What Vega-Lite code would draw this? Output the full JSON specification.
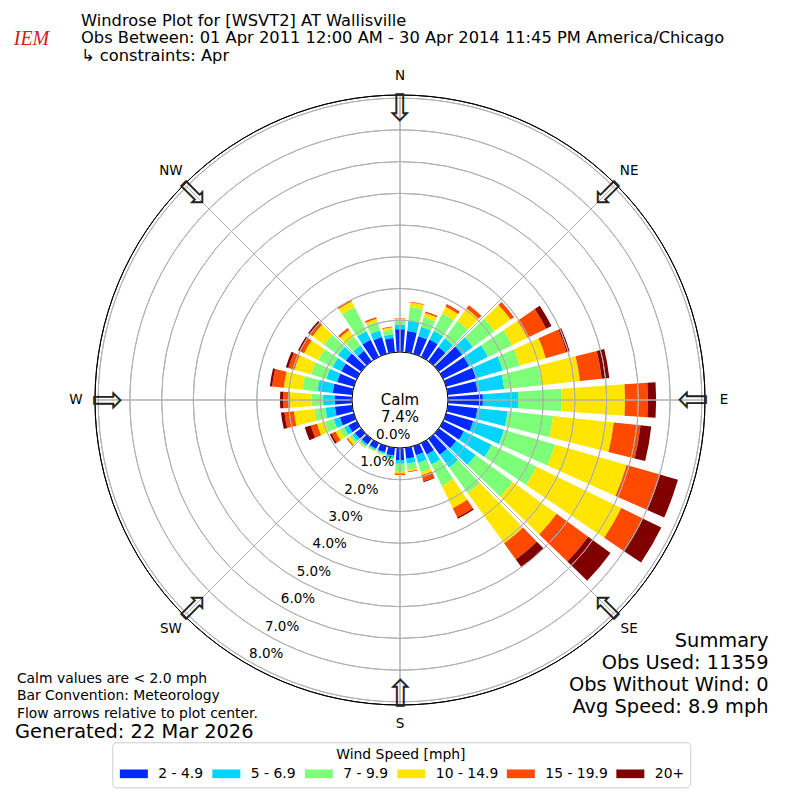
{
  "$schema": "https://vega.github.io/schema/vega-lite/v6.json",
  "width": 800,
  "height": 800,
  "padding": 0,
  "autosize": "none",
  "background": "white",
  "title": {
    "text": "Windrose Plot for [WSVT2] AT Wallisville",
    "subtitle": ["Obs Between: 01 Apr 2011 12:00 AM - 30 Apr 2014 11:45 PM America/Chicago", "  ↳ constraints: Apr"],
    "anchor": "start",
    "frame": "group",
    "dx": 81,
    "offset": -64,
    "fontSize": 16.3,
    "fontWeight": "normal",
    "color": "black",
    "subtitleFontSize": 16.3,
    "subtitleColor": "black",
    "lineHeight": 17.5,
    "subtitleLineHeight": 17.5,
    "subtitlePadding": 1
  },
  "datasets": {
    "rose": [
      {"direction": 0, "b1": 0.72, "b2": 0.15, "b3": 0.13, "b4": 0.05, "b5": 0.01, "b6": 0},
      {"direction": 10, "b1": 0.67, "b2": 0.32, "b3": 0.45, "b4": 0.14, "b5": 0.02, "b6": 0},
      {"direction": 20, "b1": 0.58, "b2": 0.31, "b3": 0.31, "b4": 0.14, "b5": 0.05, "b6": 0},
      {"direction": 30, "b1": 0.61, "b2": 0.30, "b3": 0.61, "b4": 0.24, "b5": 0.09, "b6": 0},
      {"direction": 40, "b1": 0.55, "b2": 0.34, "b3": 0.68, "b4": 0.48, "b5": 0.13, "b6": 0},
      {"direction": 50, "b1": 0.91, "b2": 0.42, "b3": 0.84, "b4": 0.63, "b5": 0.13, "b6": 0},
      {"direction": 60, "b1": 0.91, "b2": 0.66, "b3": 0.85, "b4": 0.54, "b5": 0.65, "b6": 0.19},
      {"direction": 70, "b1": 0.98, "b2": 0.88, "b3": 0.56, "b4": 0.85, "b5": 0.68, "b6": 0.10},
      {"direction": 80, "b1": 0.94, "b2": 0.85, "b3": 1.18, "b4": 1.22, "b5": 0.69, "b6": 0.24},
      {"direction": 90, "b1": 1.10, "b2": 1.11, "b3": 1.38, "b4": 1.99, "b5": 0.72, "b6": 0.26},
      {"direction": 100, "b1": 0.94, "b2": 0.96, "b3": 1.44, "b4": 1.92, "b5": 0.85, "b6": 0.34},
      {"direction": 110, "b1": 0.89, "b2": 1.01, "b3": 1.67, "b4": 2.35, "b5": 1.06, "b6": 0.62},
      {"direction": 120, "b1": 0.73, "b2": 0.97, "b3": 1.58, "b4": 2.97, "b5": 0.73, "b6": 0.67},
      {"direction": 130, "b1": 0.68, "b2": 0.76, "b3": 1.44, "b4": 1.71, "b5": 1.23, "b6": 0.87},
      {"direction": 140, "b1": 0.62, "b2": 0.50, "b3": 1.00, "b4": 1.95, "b5": 0.63, "b6": 0.31},
      {"direction": 150, "b1": 0.40, "b2": 0.35, "b3": 0.74, "b4": 0.79, "b5": 0.32, "b6": 0.05},
      {"direction": 160, "b1": 0.30, "b2": 0.25, "b3": 0.30, "b4": 0.10, "b5": 0.20, "b6": 0.03},
      {"direction": 170, "b1": 0.35, "b2": 0.15, "b3": 0.20, "b4": 0.05, "b5": 0.03, "b6": 0},
      {"direction": 180, "b1": 0.38, "b2": 0.12, "b3": 0.25, "b4": 0.05, "b5": 0.05, "b6": 0},
      {"direction": 190, "b1": 0.25, "b2": 0.08, "b3": 0.05, "b4": 0.02, "b5": 0, "b6": 0},
      {"direction": 200, "b1": 0.20, "b2": 0.05, "b3": 0.04, "b4": 0.02, "b5": 0, "b6": 0},
      {"direction": 210, "b1": 0.20, "b2": 0.05, "b3": 0.03, "b4": 0.02, "b5": 0, "b6": 0},
      {"direction": 220, "b1": 0.22, "b2": 0.06, "b3": 0.04, "b4": 0.02, "b5": 0.01, "b6": 0},
      {"direction": 230, "b1": 0.25, "b2": 0.10, "b3": 0.10, "b4": 0.08, "b5": 0.04, "b6": 0},
      {"direction": 240, "b1": 0.30, "b2": 0.15, "b3": 0.15, "b4": 0.15, "b5": 0.14, "b6": 0.06},
      {"direction": 250, "b1": 0.46, "b2": 0.20, "b3": 0.30, "b4": 0.25, "b5": 0.20, "b6": 0.20},
      {"direction": 260, "b1": 0.55, "b2": 0.30, "b3": 0.35, "b4": 0.65, "b5": 0.30, "b6": 0.11},
      {"direction": 270, "b1": 0.54, "b2": 0.37, "b3": 0.37, "b4": 0.68, "b5": 0.21, "b6": 0.10},
      {"direction": 280, "b1": 0.62, "b2": 0.48, "b3": 0.48, "b4": 0.59, "b5": 0.37, "b6": 0.07},
      {"direction": 290, "b1": 0.55, "b2": 0.35, "b3": 0.50, "b4": 0.55, "b5": 0.20, "b6": 0.08},
      {"direction": 300, "b1": 0.55, "b2": 0.30, "b3": 0.50, "b4": 0.50, "b5": 0.15, "b6": 0.06},
      {"direction": 310, "b1": 0.60, "b2": 0.30, "b3": 0.55, "b4": 0.45, "b5": 0.12, "b6": 0.05},
      {"direction": 320, "b1": 0.41, "b2": 0.20, "b3": 0.35, "b4": 0.25, "b5": 0.08, "b6": 0},
      {"direction": 330, "b1": 0.60, "b2": 0.30, "b3": 0.85, "b4": 0.20, "b5": 0.04, "b6": 0},
      {"direction": 340, "b1": 0.55, "b2": 0.22, "b3": 0.28, "b4": 0.10, "b5": 0.05, "b6": 0},
      {"direction": 350, "b1": 0.45, "b2": 0.12, "b3": 0.15, "b4": 0.07, "b5": 0.03, "b6": 0}
    ],
    "bins": [
      {"key": "b1", "speed": "2 - 4.9"},
      {"key": "b2", "speed": "5 - 6.9"},
      {"key": "b3", "speed": "7 - 9.9"},
      {"key": "b4", "speed": "10 - 14.9"},
      {"key": "b5", "speed": "15 - 19.9"},
      {"key": "b6", "speed": "20+"}
    ],
    "rings": [
      {"pct": 0, "label": "0.0%"}, {"pct": 1, "label": "1.0%"}, {"pct": 2, "label": "2.0%"},
      {"pct": 3, "label": "3.0%"}, {"pct": 4, "label": "4.0%"}, {"pct": 5, "label": "5.0%"},
      {"pct": 6, "label": "6.0%"}, {"pct": 7, "label": "7.0%"}, {"pct": 8, "label": "8.0%"}
    ],
    "compass": [
      {"dir": 0, "name": "N"}, {"dir": 45, "name": "NE"}, {"dir": 90, "name": "E"}, {"dir": 135, "name": "SE"},
      {"dir": 180, "name": "S"}, {"dir": 225, "name": "SW"}, {"dir": 270, "name": "W"}, {"dir": 315, "name": "NW"}
    ]
  },
  "layer": [
    {
      "data": {"name": "rose"},
      "transform": [
        {"fold": ["b1", "b2", "b3", "b4", "b5", "b6"], "as": ["key", "pct"]},
        {"lookup": "key", "from": {"data": {"name": "bins"}, "key": "key", "fields": ["speed"]}},
        {"filter": "datum.pct > 0"},
        {"stack": "pct", "groupby": ["direction"], "sort": [{"field": "key", "order": "ascending"}], "as": ["r0", "r1"]}
      ],
      "mark": {"type": "arc", "strokeWidth": 0},
      "encoding": {
        "theta": {
          "field": "direction",
          "type": "ordinal",
          "scale": {
            "type": "band",
            "domain": [0, 10, 20, 30, 40, 50, 60, 70, 80, 90, 100, 110, 120, 130, 140, 150, 160, 170, 180, 190, 200, 210, 220, 230, 240, 250, 260, 270, 280, 290, 300, 310, 320, 330, 340, 350],
            "range": [-0.08727, 6.19592],
            "paddingInner": 0.2,
            "paddingOuter": 0.1
          }
        },
        "radius": {"field": "r1", "type": "quantitative", "stack": null, "scale": {"type": "linear", "domain": [0, 8.1], "range": [48, 305], "zero": false}},
        "radius2": {"field": "r0"},
        "color": {
          "field": "speed",
          "type": "nominal",
          "scale": {
            "domain": ["2 - 4.9", "5 - 6.9", "7 - 9.9", "10 - 14.9", "15 - 19.9", "20+"],
            "range": ["#0028ff", "#00d4ff", "#7dff7a", "#ffe500", "#ff4a00", "#800000"]
          },
          "legend": {
            "orient": "none",
            "legendX": 112.3,
            "legendY": 742.3,
            "direction": "horizontal",
            "title": "Wind Speed [mph]",
            "titleAnchor": "middle",
            "titleFontSize": 13.9,
            "titleFontWeight": "normal",
            "titlePadding": 5,
            "labelFontSize": 13.9,
            "labelOffset": 26.5,
            "symbolType": "M-1,-0.87H4.6V0.87H-1Z",
            "symbolSize": 100,
            "symbolStrokeWidth": 0,
            "columnPadding": 6.5,
            "padding": 5.6,
            "fillColor": "white",
            "strokeColor": "#cccccc",
            "cornerRadius": 4
          }
        }
      }
    },
    {
      "data": {"name": "rings"},
      "mark": {"type": "arc", "filled": false, "stroke": "#b0b0b0", "strokeWidth": 1},
      "encoding": {
        "theta": {"value": 0},
        "theta2": {"value": 6.2832},
        "radius": {"field": "pct", "type": "quantitative", "stack": null},
        "radius2": {"field": "pct"}
      }
    },
    {
      "data": {"name": "compass"},
      "mark": {"type": "arc", "filled": false, "stroke": "#b0b0b0", "strokeWidth": 1},
      "encoding": {
        "theta": {"field": "dir", "type": "quantitative", "stack": null, "scale": {"domain": [0, 360], "range": [0, 6.2832]}},
        "theta2": {"field": "dir"},
        "radius": {"datum": 8.1, "type": "quantitative"},
        "radius2": {"datum": 0}
      }
    },
    {
      "data": {"values": [{"edge": 8.1}]},
      "mark": {"type": "arc", "filled": false, "stroke": "black", "strokeWidth": 1},
      "encoding": {
        "theta": {"value": 0},
        "theta2": {"value": 6.2832},
        "radius": {"field": "edge", "type": "quantitative", "stack": null},
        "radius2": {"field": "edge"}
      }
    },
    {
      "data": {"values": [{"edge": 0}]},
      "mark": {"type": "arc", "fill": "white", "stroke": "black", "strokeWidth": 1},
      "encoding": {
        "theta": {"value": 0},
        "theta2": {"value": 6.2832},
        "radius": {"field": "edge", "type": "quantitative", "stack": null},
        "radius2": {"value": 0}
      }
    },
    {
      "data": {"values": [{"calm": "Calm\n7.4%"}]},
      "mark": {"type": "text", "fontSize": 15, "lineBreak": "\n", "lineHeight": 17, "align": "center", "baseline": "middle", "color": "black"},
      "encoding": {"text": {"field": "calm"}}
    },
    {
      "data": {"name": "rings"},
      "mark": {"type": "text", "fontSize": 13.5, "align": "left", "baseline": "bottom", "color": "black"},
      "encoding": {
        "theta": {"value": 3.6652},
        "radius": {"field": "pct", "type": "quantitative", "stack": null},
        "text": {"field": "label"}
      }
    },
    {
      "data": {"name": "compass"},
      "mark": {"type": "text", "fontSize": 13.5, "align": "center", "baseline": "middle", "color": "black"},
      "encoding": {
        "theta": {"field": "dir", "type": "quantitative", "stack": null, "scale": {"domain": [0, 360], "range": [0, 6.2832]}},
        "radius": {"datum": 8.7, "type": "quantitative"},
        "text": {"field": "name"}
      }
    },
    {
      "data": {"name": "compass"},
      "mark": {"type": "text", "fontSize": 38, "align": "center", "baseline": "middle", "color": "#222222"},
      "encoding": {
        "theta": {"field": "dir", "type": "quantitative", "stack": null, "scale": {"domain": [0, 360], "range": [0, 6.2832]}},
        "radius": {"datum": 7.64, "type": "quantitative"},
        "angle": {"field": "dir", "type": "quantitative", "scale": {"domain": [0, 360], "range": [0, 360]}},
        "text": {"value": "⇩"}
      }
    },
    {
      "data": {"values": [
        {"note": "Calm values are < 2.0 mph"},
        {"note": "Bar Convention: Meteorology"},
        {"note": "Flow arrows relative to plot center."}
      ]},
      "mark": {"type": "point", "opacity": 0, "size": 0},
      "encoding": {
        "shape": {
          "field": "note",
          "type": "nominal",
          "sort": null,
          "legend": {
            "orient": "none",
            "legendX": 15,
            "legendY": 672,
            "title": "Generated: 22 Mar 2026",
            "titleOrient": "bottom",
            "titleFontSize": 19.4,
            "titleFontWeight": "normal",
            "titleLimit": 0,
            "titlePadding": 2,
            "labelFontSize": 13.9,
            "labelLimit": 0,
            "labelOffset": -12,
            "symbolSize": 0,
            "symbolOpacity": 0,
            "symbolStrokeWidth": 0,
            "rowPadding": 2.4,
            "padding": 0
          }
        }
      }
    },
    {
      "data": {"values": [{"v": 0}]},
      "mark": {"type": "point", "opacity": 0, "size": 0},
      "encoding": {
        "x": {
          "field": "v",
          "type": "quantitative",
          "axis": {
            "orient": "bottom",
            "domain": false,
            "ticks": false,
            "labels": false,
            "grid": false,
            "title": ["Summary", "Obs Used: 11359", "Obs Without Wind: 0", "Avg Speed: 8.9 mph"],
            "titleFontSize": 19.4,
            "titleFontWeight": "normal",
            "titleLineHeight": 22,
            "titleAlign": "right",
            "titleAnchor": "end",
            "titleBaseline": "top",
            "titleAngle": 0,
            "titleX": 768,
            "titleY": -169,
            "titleLimit": 0
          }
        },
        "y": {
          "field": "v",
          "type": "quantitative",
          "axis": {
            "orient": "left",
            "domain": false,
            "ticks": false,
            "labels": false,
            "grid": false,
            "title": "IEM",
            "titleFont": "Liberation Serif",
            "titleFontStyle": "italic",
            "titleFontWeight": "normal",
            "titleFontSize": 20,
            "titleColor": "#d42020",
            "titleAngle": 0,
            "titleAlign": "center",
            "titleBaseline": "middle",
            "titleX": 31,
            "titleY": 38
          }
        }
      }
    }
  ],
  "resolve": {"scale": {"theta": "independent"}},
  "config": {
    "font": "DejaVu Sans",
    "view": {"stroke": null},
    "legend": {"labelColor": "black", "titleColor": "black"},
    "axis": {"titleColor": "black"}
  }
}
